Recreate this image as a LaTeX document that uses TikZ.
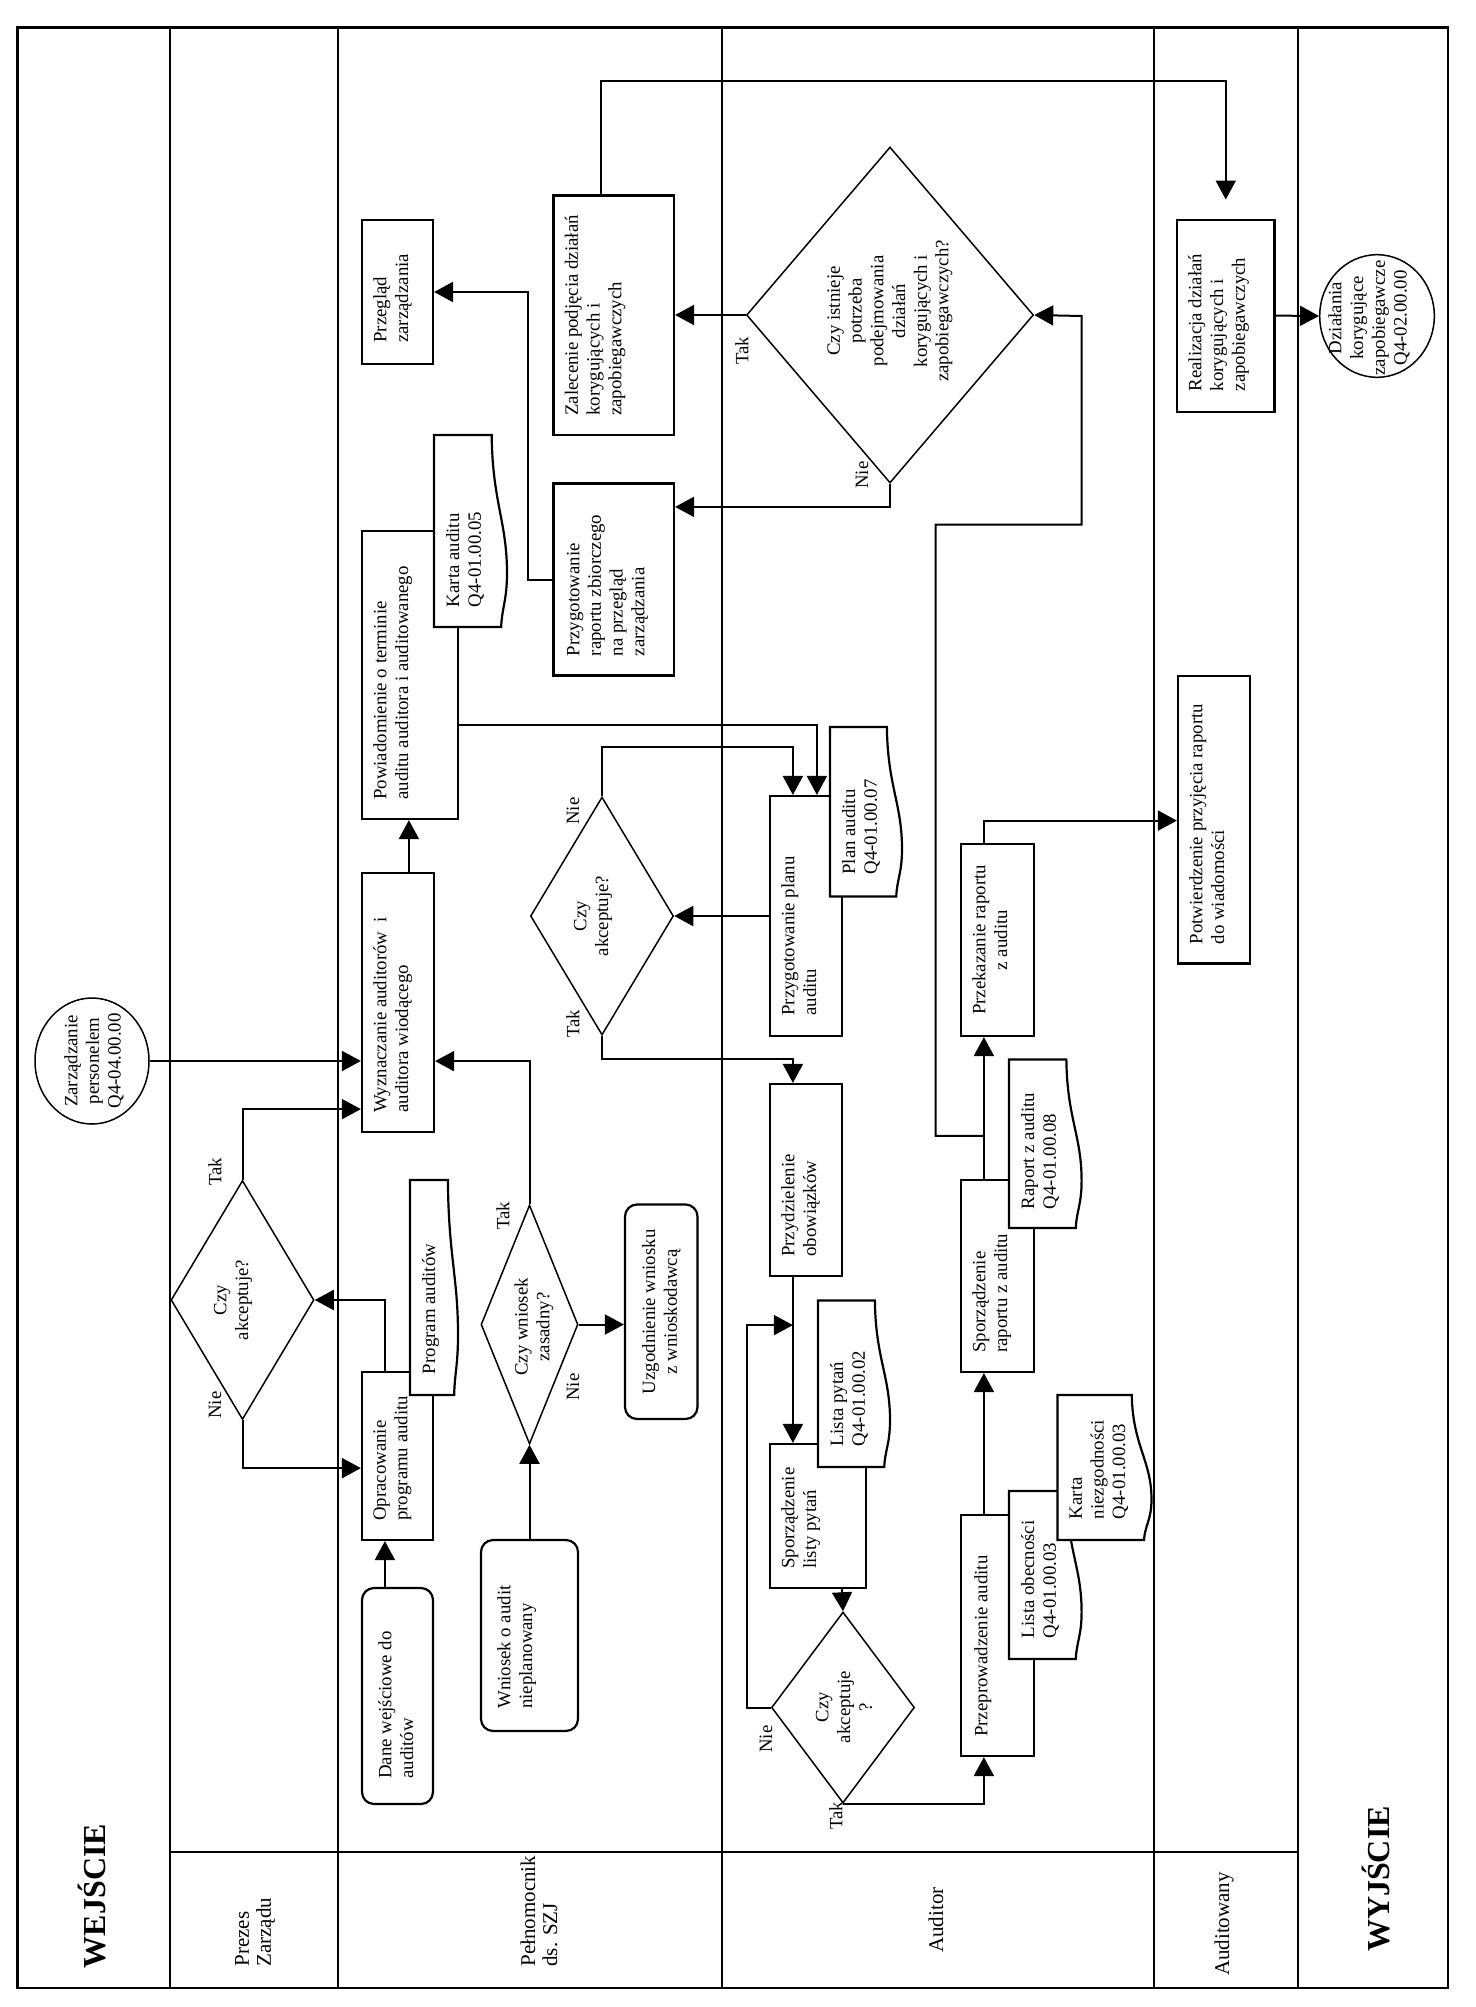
\documentclass[tikz,border=0pt]{standalone}
\usepackage{fontspec}
\setmainfont{Liberation Serif}
\usetikzlibrary{arrows.meta, shapes.geometric, positioning, fit, calc}

\newcommand{\boxfont}{\fontsize{9.4}{10.85}\selectfont}
\newcommand{\lanefont}{\fontsize{10.5}{11}\selectfont}
\newcommand{\headfont}{\fontsize{16}{19}\selectfont\bfseries}

% document shape, wavy edge on the right: name, x0, y0, x1, y1
\newcommand{\docshape}[5]{%
  \node[fit={(#2,#3) (#4,#5)}, inner sep=0pt] (#1) {};
  \draw[docline] (#2,#3) -- ({#2+0.79*(#4-#2)},#3)
    .. controls ({#2+0.80*(#4-#2)},{#3+0.35*(#5-#3)}) and (#4,{#3+0.45*(#5-#3)}) .. (#4,{#3+0.72*(#5-#3)})
    .. controls (#4,{#3+0.86*(#5-#3)}) and ({#2+0.93*(#4-#2)},{#3+0.9*(#5-#3)}) .. ({#2+0.92*(#4-#2)},#5)
    -- (#2,#5) -- cycle;}

\begin{document}
\begin{tikzpicture}[x=0.5pt, y=-0.5pt, >={Triangle[length=9.5pt,width=10pt]},
  outer/.style={line width=1.3pt},
  laneline/.style={line width=1pt},
  proc/.style={draw, line width=1.1pt, fill=white, inner sep=0pt},
  rproc/.style={proc, rounded corners=6pt},
  docline/.style={line width=1.1pt, fill=white},
  decision/.style={draw, diamond, line width=.75pt, inner sep=0pt},
  terminal/.style={draw, ellipse, line width=.75pt, inner sep=0pt},
  boxtext/.style={rotate=90, anchor=north west, align=left, inner sep=0pt, font=\boxfont},
  midtext/.style={rotate=90, align=center, inner sep=0pt, font=\boxfont},
  flow/.style={line width=1pt, ->}]
\useasboundingbox (0,0) rectangle (1476,2007);

% lanes
\draw[outer] (17.5,27.7) rectangle (1448,1988);
\foreach \x in {170,338,722,1154,1298}
  \draw[laneline] (\x,27.7) -- (\x,1988);
\draw[laneline] (170,1852) -- (1298,1852);

\node[midtext, font=\headfont] (wej) at (92,1896) {WEJŚCIE};
\node[midtext, font=\lanefont, align=left, anchor=west] (prezes) at (255,1967) {Prezes\\Zarządu};
\node[midtext, font=\lanefont, align=left, anchor=west] (pelnom) at (539,1967) {Pełnomocnik\\ds. SZJ};
\node[midtext, font=\lanefont] (auditor) at (936,1920) {Auditor};
\node[midtext, font=\lanefont] (auditowany) at (1224,1924) {Auditowany};
\node[midtext, font=\headfont] (wyj) at (1376,1879) {WYJŚCIE};

% shapes
\node[terminal, minimum width=57pt, minimum height=63pt] (in) at (92,1061) {};
\node[terminal, minimum width=57.3pt, minimum height=61.3pt] (out) at (1377,316) {};

\node[decision, minimum width=71.5pt, minimum height=119.5pt] (acc1) at (242.5,1300) {};

\node[proc, fit={(362,873) (434,1132)}] (wyz) {};
\node[proc, fit={(362,531) (458,819)}] (pow) {};
\docshape{karta}{434}{435}{507}{627}
\node[proc, fit={(362,220) (433,364)}] (prz) {};
\node[proc, fit={(553.5,195.5) (674,435)}] (zal) {};
\node[proc, fit={(553.5,483.5) (674,675.5)}] (przz) {};
\node[decision, minimum width=71.5pt, minimum height=119pt] (acc2) at (602,916) {};
\node[proc, fit={(362,1372) (433,1540)}] (opr) {};
\docshape{prog}{410}{1180}{458}{1395}
\node[rproc, fit={(362,1588) (433,1804)}] (dane) {};
\node[rproc, fit={(481,1540) (578,1731)}] (wn) {};
\node[decision, minimum width=48.5pt, minimum height=119.5pt] (zas) at (529.5,1324.5) {};
\node[rproc, fit={(625,1204.5) (697.5,1419)}] (uzg) {};

\node[decision, minimum width=143.5pt, minimum height=168pt] (need) at (890,315) {};
\node[proc, fit={(770,796) (842,1036)}] (plan) {};
\docshape{plandoc}{830}{727}{902}{896.5}
\node[proc, fit={(770,1084) (842,1276)}] (przyd) {};
\node[proc, fit={(770,1444) (866,1588)}] (listy) {};
\docshape{lista}{818}{1300.5}{890}{1467}
\node[decision, minimum width=71.5pt, minimum height=95.5pt] (acc3) at (843,1707.5) {};
\node[proc, fit={(961,1515) (1034,1756)}] (przep) {};
\docshape{lobec}{1009}{1491}{1081.6}{1659}
\docshape{kniez}{1057.5}{1395}{1151.5}{1540}
\node[proc, fit={(961,1180) (1034,1372)}] (sprap) {};
\docshape{rapdoc}{1009}{1059.5}{1081.6}{1228}
\node[proc, fit={(961,844) (1034,1036)}] (przek) {};

\node[proc, fit={(1178,676) (1250,963.5)}] (potw) {};
\node[proc, fit={(1177,219.6) (1274.5,411.6)}] (real) {};

% connectors
\draw[flow] (in.east) -- (wyz.west |- in.east);
\draw[flow] (acc1.north) |- ($(wyz.south west)+(0,-24)$);
\draw[flow] (acc1.south) |- ($(opr.south west)+(0,-73)$);
\draw[flow] ($(opr.north west)+(24,0)$) |- (acc1.east);
\draw[flow] ($(dane.north west)+(24,0)$) -- ($(opr.south west)+(24,0)$);
\draw[flow] ($(wyz.north west)+(48,0)$) -- ($(pow.south west)+(48,0)$);
\draw[flow] ($(pow.south east)+(0,-95)$) -| ($(plan.north west)+(48,0)$);
\draw[flow] (acc2.north) |- ($(plan.north west)+(24,-48)$) -- ($(plan.north west)+(24,0)$);
\draw[flow] (plan.west) -- (acc2.east);
\draw[flow] (acc2.south) |- ($(przyd.north west)+(24,-24)$) -- ($(przyd.north west)+(24,0)$);
\draw[flow] ($(przyd.south west)+(24,0)$) -- ($(listy.north west)+(24,0)$);
\draw[flow] ($(listy.south west)+(73,0)$) -- (acc3.north);
\draw[flow] (acc3.west) -- ++(-24,0) |- ($(przyd.south west)+(24,48)$);
\draw[flow] (acc3.south) -| ($(przep.south west)+(24,0)$);
\draw[flow] ($(przep.north west)+(24,0)$) -- ($(sprap.south west)+(24,0)$);
\draw[flow] ($(sprap.north west)+(24,0)$) -- ($(przek.south west)+(24,0)$);
\draw[flow] ($(przek.north west)+(24,0)$) |- ($(potw.south west)+(0,-144)$);
\draw[flow] ($(sprap.north west)+(24,-43)$) -| (935.5,524.5) -| (1081.6,316) -- (need.east);
\draw[flow] (need.west) -- (zal.east |- need.west);
\draw[flow] (need.south) |- ($(przz.north east)+(0,24.5)$);
\draw[flow] ($(zal.north west)+(48.5,0)$) |- ($(real.north)+(0,-137)$) -- ($(real.north)+(0,-19)$);
\draw[flow] (real.east) -- (out.west);
\draw[flow] (przz.west) -- ++(-24,0) |- (prz.east);
\draw[flow] (zas.north) |- ($(wyz.south east)+(0,-72)$);
\draw[flow] (zas.east) -- (uzg.west |- zas.east);
\draw[flow] (wn.north) -- (zas.south);

% texts
\node[midtext] (in-t) at (94,1061) {Zarządzanie\\personelem\\Q4-04.00.00};
\node[midtext] (out-t) at (1369,318) {Działania\\korygujące\\zapobiegawcze\\Q4-02.00.00};

\node[midtext] (acc1-t) at (233,1300) {Czy\\akceptuje?};
\node[midtext] (acc1-tak) at (215,1172) {Tak};
\node[midtext] (acc1-nie) at (215,1405) {Nie};

\node[boxtext] (wyz-t) at ($(wyz.south west)+(12,-20)$) {Wyznaczanie auditorów\ \ i\\auditora wiodącego};
\node[boxtext] (pow-t) at ($(pow.south west)+(12,-20)$) {Powiadomienie o terminie\\auditu auditora i auditowanego};
\node[boxtext] (karta-t) at ($(karta.south west)+(12,-20)$) {Karta auditu\\Q4-01.00.05};
\node[boxtext] (prz-t) at ($(prz.south west)+(12,-22)$) {Przegląd\\zarządzania};
\node[boxtext] (zal-t) at ($(zal.south west)+(12,-20)$) {Zalecenie podjęcia działań\\korygujących i\\zapobiegawczych};
\node[boxtext] (przz-t) at ($(przz.south west)+(14,-20)$) {Przygotowanie\\raportu zbiorczego\\na przegląd\\zarządzania};
\node[midtext] (acc2-t) at (593,916) {Czy\\akceptuje?};
\node[midtext] (acc2-nie) at (573,811) {Nie};
\node[midtext] (acc2-tak) at (573,1024) {Tak};
\node[boxtext] (opr-t) at ($(opr.south west)+(12,-20)$) {Opracowanie\\programu auditu};
\node[boxtext] (prog-t) at ($(prog.south west)+(12,-21)$) {Program auditów};
\node[boxtext] (dane-t) at ($(dane.south west)+(17,-26)$) {Dane wejściowe do\\auditów};
\node[boxtext] (wn-t) at ($(wn.south west)+(17,-23)$) {Wniosek o audit\\nieplanowany};
\node[midtext] (zas-t) at (534,1327) {Czy wniosek\\zasadny?};
\node[midtext] (zas-tak) at (503,1216) {Tak};
\node[midtext] (zas-nie) at (573,1387) {Nie};
\node[midtext] (uzg-t) at (uzg.center) {Uzgodnienie wniosku\\z wnioskodawcą};

\node[midtext] (need-t) at (890,311) {Czy istnieje\\potrzeba\\podejmowania\\działań\\korygujących i\\zapobiegawczych?};
\node[midtext] (need-tak) at (742,351) {Tak};
\node[midtext] (need-nie) at (862,475) {Nie};
\node[boxtext] (plan-t) at ($(plan.south west)+(12,-21)$) {Przygotowanie planu\\auditu};
\node[boxtext] (plandoc-t) at ($(plandoc.south west)+(12,-22)$) {Plan auditu\\Q4-01.00.07};
\node[boxtext] (przyd-t) at ($(przyd.south west)+(12,-20)$) {Przydzielenie\\obowiązków};
\node[boxtext] (lista-t) at ($(lista.south west)+(12,-21)$) {Lista pytań\\Q4-01.00.02};
\node[boxtext] (listy-t) at ($(listy.south west)+(12,-20)$) {Sporządzenie\\listy pytań};
\node[midtext] (acc3-t) at (844,1707) {Czy\\akceptuje\\?};
\node[midtext] (acc3-nie) at (766,1739) {Nie};
\node[midtext] (acc3-tak) at (836,1816) {Tak};
\node[boxtext] (przep-t) at ($(przep.south west)+(14,-20)$) {Przeprowadzenie auditu};
\node[boxtext] (lobec-t) at ($(lobec.south west)+(12,-21)$) {Lista obecności\\Q4-01.00.03};
\node[boxtext] (kniez-t) at ($(kniez.south west)+(12,-21)$) {Karta\\niezgodności\\Q4-01.00.03};
\node[boxtext] (sprap-t) at ($(sprap.south west)+(12,-20)$) {Sporządzenie\\raportu z auditu};
\node[boxtext] (rapdoc-t) at ($(rapdoc.south west)+(12,-19)$) {Raport z auditu\\Q4-01.00.08};
\node[midtext, anchor=north] (przek-t) at ($(przek.west)+(12,0)$) {Przekazanie raportu\\z auditu};

\node[boxtext] (potw-t) at ($(potw.south west)+(12,-20)$) {Potwierdzenie przyjęcia raportu\\do wiadomości};
\node[boxtext] (real-t) at ($(real.south west)+(12,-21)$) {Realizacja działań\\korygujących i\\zapobiegawczych};
\end{tikzpicture}
\end{document}
